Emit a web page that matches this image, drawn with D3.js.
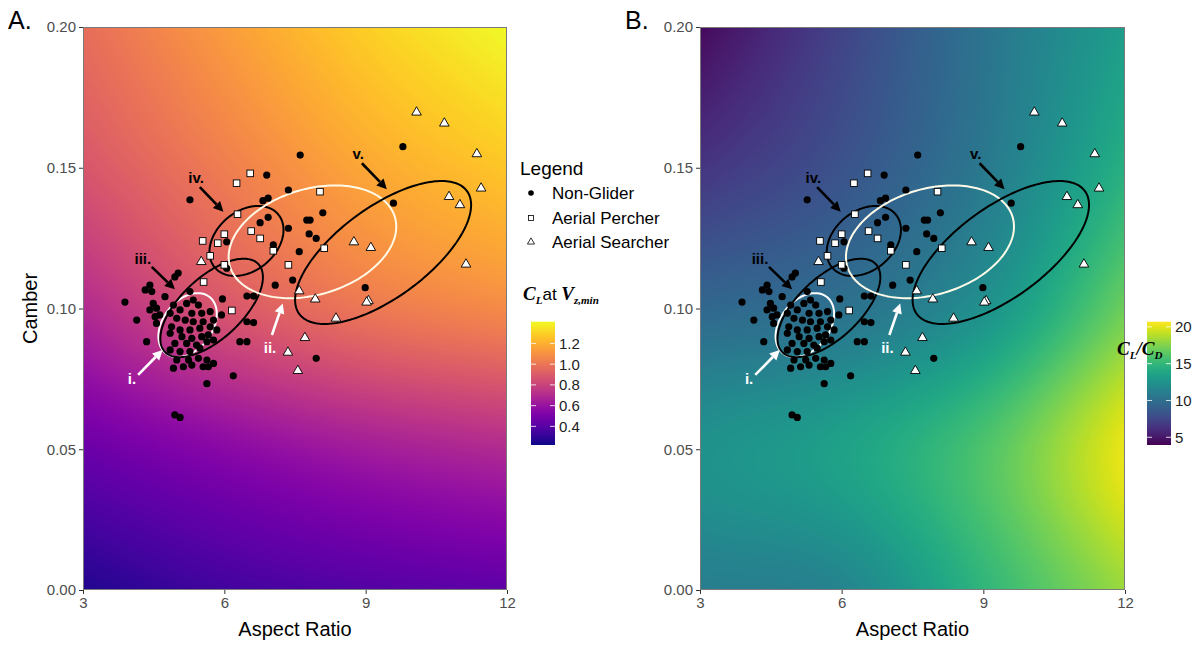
<!DOCTYPE html>
<html><head><meta charset="utf-8">
<script src="https://cdn.jsdelivr.net/npm/d3@7"></script>
<style>body{margin:0;background:#fff;} svg{display:block;font-family:Arial,"Liberation Sans",sans-serif;}</style>
</head><body>
<svg id="chart" width="1203" height="645"></svg>
<script>
// ---------------- data ----------------
const nonGlider = [
[7.61,0.1545],[6.90,0.1474],[7.36,0.1421],[5.27,0.1386],[6.82,0.1383],[6.93,0.1392],[8.09,0.1340],[7.82,0.1314],[7.75,0.1314],[6.76,0.1305],[6.93,0.1324],[7.36,0.1285],[7.80,0.1265],[7.95,0.1249],[6.05,0.1237],[7.04,0.1226],[7.59,0.1202],[6.05,0.1143],[7.45,0.1101],[7.08,0.1083],[8.99,0.1074],[9.59,0.1374],[9.79,0.1575],[7.95,0.0823],
[6.48,0.1044],[6.62,0.1044],[5.96,0.1034],[6.48,0.0953],[6.62,0.0950],[6.33,0.0882],[6.48,0.0882],[6.19,0.0761],[5.63,0.0733],[4.95,0.0622],[5.06,0.0613],[5.94,0.0977],
[3.89,0.1023],[4.14,0.0959],[4.35,0.0882],[5.02,0.1126],[4.95,0.1112],[4.42,0.1083],[4.32,0.1066],[4.46,0.1060],[4.74,0.1042],[5.27,0.1060],
[4.49,0.1018],[4.42,0.0995],[4.56,0.1001],[4.63,0.0977],[4.53,0.0971],[4.92,0.1012],[4.85,0.0983],[4.56,0.0947],[5.20,0.1018],[5.34,0.1030],[5.45,0.1012],[5.06,0.0995],[5.31,0.0983],[5.52,0.0983],[5.70,0.0989],[4.99,0.0965],[5.17,0.0959],[5.34,0.0953],[5.55,0.0953],[5.77,0.0959],[4.88,0.0935],[5.06,0.0924],[5.27,0.0924],[5.48,0.0930],[5.70,0.0935],[5.84,0.0924],[4.85,0.0912],[5.10,0.0900],[5.31,0.0894],[5.52,0.0900],[5.66,0.0906],[4.95,0.0876],[5.20,0.0876],[5.41,0.0870],[5.63,0.0882],[5.77,0.0888],[4.85,0.0853],[5.06,0.0847],[5.27,0.0847],[5.48,0.0859],[4.99,0.0817],[5.24,0.0817],[5.45,0.0823],[5.63,0.0817],[5.77,0.0805],[4.92,0.0788],[5.13,0.0793],[5.31,0.0799],[5.55,0.0793],[5.66,0.0793]
];
const aerialPercher = [
[6.55,0.1480],[6.26,0.1445],[8.03,0.1415],[6.28,0.1335],[6.00,0.1264],[6.57,0.1275],[6.76,0.1249],[5.54,0.1240],[5.86,0.1232],[5.70,0.1187],[7.04,0.1205],[8.12,0.1214],[7.36,0.1155],[5.56,0.1094],[6.16,0.0993],[6.00,0.1155]
];
const aerialSearcher = [
[10.08,0.1697],[10.67,0.1658],[11.36,0.1549],[11.45,0.1427],[10.77,0.1397],[11.00,0.1368],[8.75,0.1236],[9.11,0.1216],[11.13,0.1157],[7.59,0.1062],[7.93,0.1033],[9.06,0.1027],[9.02,0.1022],[8.37,0.0965],[7.71,0.0896],[7.35,0.0844],[7.56,0.0779],[5.51,0.1166]
];
// ellipses: centre, conjugate semi-diameters (data units)
const ellipses = [
  {id:"i",   cx:5.22, cy:0.0941, ux:0.616, uy:0.00284, vx:0.064, vy:0.0110, color:"#ffffff"},
  {id:"iii", cx:5.73, cy:0.1002, ux:1.089, uy:0.01094, vx:0,     vy:0.01364, color:"#000000"},
  {id:"iv",  cx:6.47, cy:0.1240, ux:0.786, uy:0.00391, vx:0,     vy:0.0118, color:"#000000"},
  {id:"ii",  cx:7.87, cy:0.1237, ux:1.779, uy:0.0054,  vx:0,     vy:0.01929, color:"#fffbe8"},
  {id:"v",   cx:9.37, cy:0.1199, ux:1.868, uy:0.01687, vx:0,     vy:0.01897, color:"#000000"}
];
const annotations = [
  {text:"iv.",  lx:5.40, ly:0.1464, x1:5.48, y1:0.1431, x2:5.98, y2:0.1344, color:"#000"},
  {text:"iii.", lx:4.27, ly:0.1179, x1:4.46, y1:0.1148, x2:4.95, y2:0.1068, color:"#000"},
  {text:"i.",   lx:4.04, ly:0.0753, x1:4.17, y1:0.0764, x2:4.69, y2:0.0853, color:"#fff"},
  {text:"ii.",  lx:6.97, ly:0.0863, x1:7.01, y1:0.0906, x2:7.24, y2:0.1018, color:"#fff"},
  {text:"v.",   lx:8.84, ly:0.1549, x1:8.92, y1:0.1516, x2:9.45, y2:0.1424, color:"#000"}
];
// background fields (rows: camber, cols: aspect ratio)
const gridAR = [3, 6, 9, 12];
const gridCamber = [0, 0.05, 0.10, 0.15, 0.20];
const clField = [
  [0.256, 0.339, 0.387, 0.422],
  [0.458, 0.553, 0.637, 0.696],
  [0.696, 0.875, 1.005, 1.077],
  [0.875, 1.029, 1.172, 1.267],
  [0.970, 1.136, 1.291, 1.410]
];
const ldField = [
  [11.0, 11.5, 14.9, 18.2],
  [12.4, 13.5, 16.0, 20.2],
  [9.5, 10.2, 12.4, 17.0],
  [6.5, 8.2, 10.7, 14.5],
  [4.3, 7.3, 10.3, 13.2]
];
const clTicks = [0.4, 0.6, 0.8, 1.0, 1.2];
const ldTicks = [5, 10, 15, 20];
const xTicks = [3, 6, 9, 12];
const yTicks = [0, 0.05, 0.10, 0.15, 0.20];
const legendLabels = ["Non-Glider", "Aerial Percher", "Aerial Searcher"];

// ---------------- drawing ----------------
const svg = d3.select("#chart");
const yTop = 27, yBot = 590;
const y = d3.scaleLinear().domain([0, 0.2]).range([yBot, yTop]);

// smooth (Catmull-Rom) interpolation of the read grid
function cr(p0, p1, p2, p3, t) {
  return 0.5 * ((2 * p1) + (-p0 + p2) * t + (2 * p0 - 5 * p1 + 4 * p2 - p3) * t * t + (-p0 + 3 * p1 - 3 * p2 + p3) * t * t * t);
}
function pick(arr, i) {
  const n = arr.length;
  if (i < 0) return 2 * arr[0] - arr[1];
  if (i > n - 1) return 2 * arr[n - 1] - arr[n - 2];
  return arr[i];
}
function interp1(row, f) {
  const n = row.length;
  const i = Math.max(0, Math.min(n - 2, Math.floor(f)));
  const t = f - i;
  return cr(pick(row, i - 1), row[i], row[i + 1], pick(row, i + 2), t);
}
function fieldAt(field, ar, c) {
  const fx = d3.scaleLinear().domain(gridAR).range(d3.range(gridAR.length)).clamp(true)(ar);
  const fy = d3.scaleLinear().domain(gridCamber).range(d3.range(gridCamber.length)).clamp(true)(c);
  const col = field.map(r => interp1(r, fx));
  return interp1(col, fy);
}

const panels = [
  {x0: 83, x1: 507, label: "A.", field: clField, interp: d3.interpolatePlasma, domain: [0.22, 1.41]},
  {x0: 700, x1: 1125, label: "B.", field: ldField, interp: d3.interpolateViridis, domain: [3.95, 20.7]}
];

panels.forEach((p, pi) => {
  const x = d3.scaleLinear().domain([3, 12]).range([p.x0, p.x1]);
  const col = d3.scaleSequential(p.interp).domain(p.domain).clamp(true);
  const w = Math.round(p.x1 - p.x0), h = yBot - yTop;
  const cv = document.createElement("canvas");
  cv.width = w; cv.height = h;
  const ctx = cv.getContext("2d");
  const img = ctx.createImageData(w, h);
  for (let j = 0; j < h; j++) {
    const c = y.invert(yTop + j + 0.5);
    for (let i = 0; i < w; i++) {
      const ar = x.invert(p.x0 + i + 0.5);
      const rgb = d3.rgb(col(fieldAt(p.field, ar, c)));
      const k = (j * w + i) * 4;
      img.data[k] = rgb.r; img.data[k + 1] = rgb.g; img.data[k + 2] = rgb.b; img.data[k + 3] = 255;
    }
  }
  ctx.putImageData(img, 0, 0);
  const g = svg.append("g");
  g.append("image").attr("x", p.x0).attr("y", yTop).attr("width", w).attr("height", h)
    .attr("preserveAspectRatio", "none").attr("href", cv.toDataURL());
  g.append("rect").attr("x", p.x0 + 0.5).attr("y", yTop + 0.5).attr("width", w - 1).attr("height", h - 1)
    .attr("fill", "none").attr("stroke", "#7a7a7a").attr("stroke-width", 1);

  // axes
  const ax = g.append("g").attr("transform", `translate(0,${yBot})`)
    .call(d3.axisBottom(x).tickValues(xTicks).tickFormat(d3.format("d")).tickSize(4).tickPadding(3));
  const ay = g.append("g").attr("transform", `translate(${p.x0},0)`)
    .call(d3.axisLeft(y).tickValues(yTicks).tickFormat(d3.format(".2f")).tickSize(4).tickPadding(3));
  [ax, ay].forEach(a => {
    a.select(".domain").remove();
    a.selectAll(".tick line").attr("stroke", "#333");
    a.selectAll(".tick text").attr("fill", "#4d4d4d").style("font-size", "15px").style("font-family", "Arial, 'Liberation Sans', sans-serif");
  });
  g.append("text").attr("x", (p.x0 + p.x1) / 2).attr("y", 636).attr("text-anchor", "middle")
    .style("font-size", "20px").attr("fill", "#000").text("Aspect Ratio");
  if (pi === 0) {
    g.append("text").attr("transform", `translate(37,${(yTop + yBot) / 2}) rotate(-90)`).attr("text-anchor", "middle")
      .style("font-size", "20px").attr("fill", "#000").text("Camber");
  }
  g.append("text").attr("x", p.x0 - 75).attr("y", 29).style("font-size", "25px").attr("fill", "#000").text(p.label);

  // ellipses
  const line = d3.line().curve(d3.curveLinearClosed);
  ellipses.forEach(e => {
    const pts = d3.range(0, 360, 2).map(dg => {
      const t = dg * Math.PI / 180;
      return [x(e.cx + e.ux * Math.cos(t) + e.vx * Math.sin(t)), y(e.cy + e.uy * Math.cos(t) + e.vy * Math.sin(t))];
    });
    g.append("path").attr("d", line(pts)).attr("fill", "none").attr("stroke", e.color).attr("stroke-width", 2);
  });

  // points
  g.append("g").selectAll("circle").data(nonGlider).join("circle")
    .attr("cx", d => x(d[0])).attr("cy", d => y(d[1])).attr("r", 3.6).attr("fill", "#000");
  g.append("g").selectAll("rect").data(aerialPercher).join("rect")
    .attr("x", d => x(d[0]) - 3.3).attr("y", d => y(d[1]) - 3.3).attr("width", 6.6).attr("height", 6.6)
    .attr("fill", "#fff").attr("stroke", "#000").attr("stroke-width", 0.9);
  const tri = d3.symbol(d3.symbolTriangle, 40);
  g.append("g").selectAll("path").data(aerialSearcher).join("path")
    .attr("transform", d => `translate(${x(d[0])},${y(d[1])})`).attr("d", tri)
    .attr("fill", "#fff").attr("stroke", "#000").attr("stroke-width", 0.9);

  // annotations
  annotations.forEach(a => {
    const X1 = x(a.x1), Y1 = y(a.y1), X2 = x(a.x2), Y2 = y(a.y2);
    const ang = Math.atan2(Y2 - Y1, X2 - X1);
    const hl = 10, hw = 5;
    const bx = X2 - hl * Math.cos(ang), by = Y2 - hl * Math.sin(ang);
    g.append("line").attr("x1", X1).attr("y1", Y1).attr("x2", bx).attr("y2", by)
      .attr("stroke", a.color).attr("stroke-width", 2.6);
    g.append("path").attr("d", `M${X2},${Y2}L${bx + hw * Math.sin(ang)},${by - hw * Math.cos(ang)}L${bx - hw * Math.sin(ang)},${by + hw * Math.cos(ang)}Z`)
      .attr("fill", a.color);
    g.append("text").attr("x", x(a.lx)).attr("y", y(a.ly)).attr("text-anchor", "middle").attr("dominant-baseline", "central")
      .style("font-size", "15px").style("font-weight", "bold").attr("fill", a.color).text(a.text);
  });
});

// ---------------- legends ----------------
const lg = svg.append("g");
lg.append("text").attr("x", 520).attr("y", 175).style("font-size", "19px").attr("fill", "#000").text("Legend");
const ly = [193, 218, 242];
legendLabels.forEach((t, i) => {
  lg.append("text").attr("x", 552).attr("y", ly[i]).attr("dominant-baseline", "central")
    .style("font-size", "17px").attr("fill", "#000").text(t);
});
lg.append("circle").attr("cx", 531).attr("cy", ly[0]).attr("r", 2.8).attr("fill", "#000");
lg.append("rect").attr("x", 528.5).attr("y", ly[1] - 2.5).attr("width", 5).attr("height", 5).attr("fill", "#fff").attr("stroke", "#000").attr("stroke-width", 0.8);
lg.append("path").attr("transform", `translate(531,${ly[2]})`).attr("d", d3.symbol(d3.symbolTriangle, 22)).attr("fill", "#fff").attr("stroke", "#000").attr("stroke-width", 0.8);

function colorbar(x0, interp, domain, ticks, fmt, id) {
  const top = 321.7, bot = 445, w = 24;
  const s = d3.scaleLinear().domain(domain).range([bot, top]);
  const grad = svg.append("defs").append("linearGradient").attr("id", id)
    .attr("x1", 0).attr("y1", 1).attr("x2", 0).attr("y2", 0);
  d3.range(0, 1.0001, 0.05).forEach(t => grad.append("stop").attr("offset", t).attr("stop-color", interp(t)));
  svg.append("rect").attr("x", x0).attr("y", top).attr("width", w).attr("height", bot - top).attr("fill", `url(#${id})`);
  ticks.forEach(v => {
    svg.append("line").attr("x1", x0).attr("x2", x0 + 5).attr("y1", s(v)).attr("y2", s(v)).attr("stroke", "#fff").attr("stroke-opacity", 0.8);
    svg.append("line").attr("x1", x0 + w - 5).attr("x2", x0 + w).attr("y1", s(v)).attr("y2", s(v)).attr("stroke", "#fff").attr("stroke-opacity", 0.8);
    svg.append("text").attr("x", x0 + w + 4).attr("y", s(v)).attr("dominant-baseline", "central")
      .style("font-size", "15px").attr("fill", "#222").text(fmt(v));
  });
}
colorbar(531, d3.interpolatePlasma, [0.22, 1.41], clTicks, d3.format(".1f"), "gA");
colorbar(1147, d3.interpolateViridis, [3.95, 20.7], ldTicks, d3.format("d"), "gB");

// colour-bar titles
const serif = "'Liberation Serif','DejaVu Serif',serif";
const tA = svg.append("text").attr("x", 523).attr("y", 300).attr("fill", "#000");
tA.append("tspan").style("font-family", serif).style("font-weight", "bold").style("font-style", "italic").style("font-size", "19px").text("C");
tA.append("tspan").attr("dy", 4).style("font-family", serif).style("font-weight", "bold").style("font-style", "italic").style("font-size", "11px").text("L");
tA.append("tspan").attr("dy", -4).style("font-size", "17px").text("at ");
tA.append("tspan").style("font-family", serif).style("font-weight", "bold").style("font-style", "italic").style("font-size", "19px").text("V");
tA.append("tspan").attr("dy", 4).style("font-family", serif).style("font-weight", "bold").style("font-style", "italic").style("font-size", "11px").text("z,min");

const tB = svg.append("text").attr("x", 1117).attr("y", 355).attr("fill", "#000")
  .style("font-family", serif).style("font-weight", "bold").style("font-style", "italic");
tB.append("tspan").style("font-size", "19px").text("C");
tB.append("tspan").attr("dy", 4).style("font-size", "11px").text("L");
tB.append("tspan").attr("dy", -4).style("font-size", "19px").text("/C");
tB.append("tspan").attr("dy", 4).style("font-size", "11px").text("D");
</script>
</body></html>
